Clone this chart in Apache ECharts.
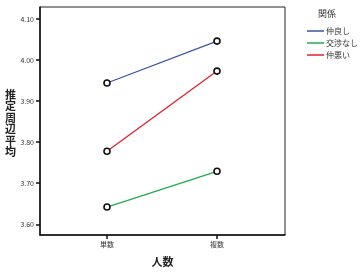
<!DOCTYPE html>
<html><head><meta charset="utf-8">
<script src="https://cdn.jsdelivr.net/npm/echarts@6/dist/echarts.min.js"></script>
<style>html,body{margin:0;padding:0;background:#fff}#c{width:364px;height:272px}</style>
</head><body><div id="c"></div>
<script>
var categories = ['単数', '複数'];
var seriesNames = ['仲良し', '交渉なし', '仲悪い'];
var nakayoshi = [3.944, 4.046];
var koushounashi = [3.642, 3.729];
var nakawarui = [3.778, 3.973];
var yTicks = [3.60, 3.70, 3.80, 3.90, 4.00, 4.10];
var colors = ['#3a56a5', '#1fae4a', '#e0202e'];
var values = [nakayoshi, koushounashi, nakawarui];

var font = '"Noto Sans CJK JP", "Liberation Sans", sans-serif';
var chart = echarts.init(document.getElementById('c'));
chart.setOption({
  animation: false,
  grid: { left: 40, top: 7, width: 245, height: 233, show: true, borderColor: '#222', borderWidth: 1 },
  legend: {
    show: true, orient: 'vertical', left: 302, top: 22, itemWidth: 17, itemHeight: 1.5, itemGap: 4,
    icon: 'rect',
    textStyle: { fontSize: 8, fontFamily: font, color: '#333', padding: [0,0,0,-3] },
    data: seriesNames.map(function (n, i) {
      return { name: n, itemStyle: { color: colors[i], borderWidth: 0 } };
    })
  },
  xAxis: {
    type: 'value', min: -0.609, max: 1.618,
    axisLine: { show: true, onZero: false, lineStyle: { color: '#111', width: 1.5 } },
    axisTick: { show: true, customValues: [0, 1], length: 4, lineStyle: { color: '#111', width: 1.5 } },
    axisLabel: { customValues: [0, 1], fontSize: 7, color: '#333', fontFamily: font, margin: 6,
      formatter: function (v) { return categories[Math.round(v)]; } },
    splitLine: { show: false },
    name: '人数', nameLocation: 'middle', nameGap: 21,
    nameTextStyle: { fontSize: 11, fontWeight: 'bold', color: '#222', fontFamily: font }
  },
  yAxis: {
    type: 'value', min: 3.574, max: 4.129,
    axisLine: { show: true, onZero: false, lineStyle: { color: '#111', width: 1.5 } },
    axisTick: { show: true, customValues: yTicks, length: 4, lineStyle: { color: '#111', width: 1.5 } },
    axisLabel: { customValues: yTicks, fontSize: 7, color: '#333', fontFamily: font, margin: 6,
      formatter: function (v) { return v.toFixed(2); } },
    splitLine: { show: false }
  },
  graphic: [{
    type: 'text', left: 5, top: 89,
    style: { text: '推\n定\n周\n辺\n平\n均', font: 'bold 11px ' + font, fill: '#222', lineHeight: 11.5 }
  }, {
    type: 'text', left: 318, top: 9,
    style: { text: '関係', font: '9px ' + font, fill: '#333' }
  }],
  series: seriesNames.map(function (n, i) {
    return {
      name: n, type: 'line',
      data: values[i].map(function (v, j) { return [j, v]; }),
      lineStyle: { color: colors[i], width: 1.3 },
      itemStyle: { color: '#fff', borderColor: '#111', borderWidth: 1.6 },
      symbol: 'circle', symbolSize: 6,
      showSymbol: true, showAllSymbol: true,
      emphasis: { disabled: true }
    };
  })
});
</script></body></html>
